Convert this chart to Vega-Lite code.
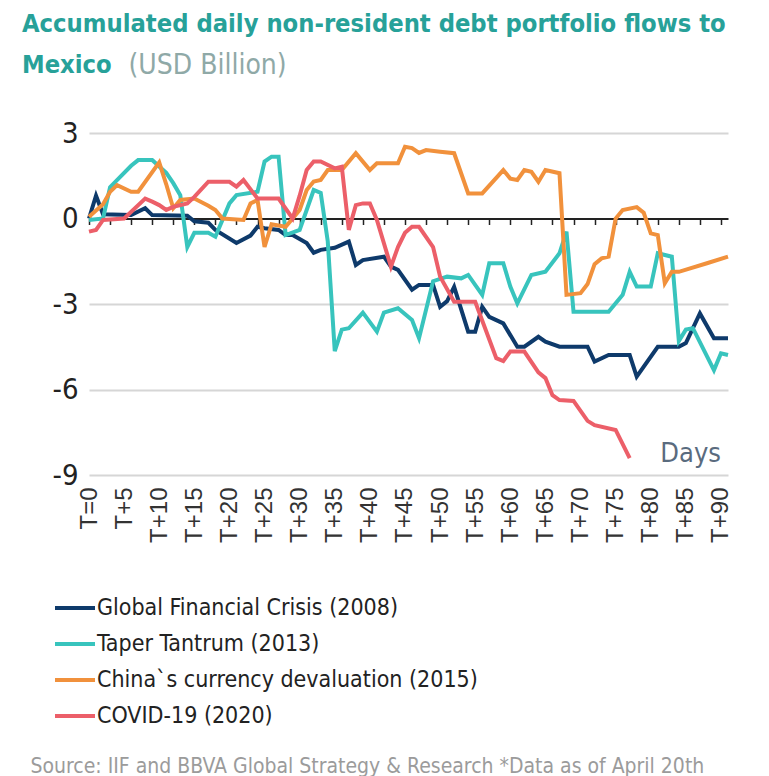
{
  "$schema": "https://vega.github.io/schema/vega-lite/v6.json",
  "width": 639,
  "height": 342,
  "autosize": {"type": "none"},
  "padding": {"left": 89, "top": 133, "right": 41, "bottom": 301},
  "background": "white",
  "config": {"view": {"stroke": null}},
  "title": {
    "text": ["Accumulated daily non-resident debt portfolio flows to", "Mexico"],
    "anchor": "start",
    "frame": "group",
    "dx": -67,
    "dy": 67,
    "offset": 40,
    "font": "DejaVu Sans Condensed, sans-serif",
    "fontSize": 25.3,
    "fontWeight": "bold",
    "color": "#27a199",
    "lineHeight": 41
  },
  "layer": [
    {
      "data": {
        "values": [
          {"series": "Global Financial Crisis (2008)", "day": 0, "value": 0.0},
          {"series": "Global Financial Crisis (2008)", "day": 1, "value": 0.8},
          {"series": "Global Financial Crisis (2008)", "day": 2, "value": 0.15},
          {"series": "Global Financial Crisis (2008)", "day": 6, "value": 0.12},
          {"series": "Global Financial Crisis (2008)", "day": 8, "value": 0.36},
          {"series": "Global Financial Crisis (2008)", "day": 9, "value": 0.12},
          {"series": "Global Financial Crisis (2008)", "day": 14, "value": 0.1},
          {"series": "Global Financial Crisis (2008)", "day": 15, "value": -0.1},
          {"series": "Global Financial Crisis (2008)", "day": 17, "value": -0.15},
          {"series": "Global Financial Crisis (2008)", "day": 18, "value": -0.4},
          {"series": "Global Financial Crisis (2008)", "day": 21, "value": -0.86},
          {"series": "Global Financial Crisis (2008)", "day": 23, "value": -0.6},
          {"series": "Global Financial Crisis (2008)", "day": 24, "value": -0.29},
          {"series": "Global Financial Crisis (2008)", "day": 25, "value": -0.34},
          {"series": "Global Financial Crisis (2008)", "day": 27, "value": -0.4},
          {"series": "Global Financial Crisis (2008)", "day": 28, "value": -0.58},
          {"series": "Global Financial Crisis (2008)", "day": 29, "value": -0.58},
          {"series": "Global Financial Crisis (2008)", "day": 31, "value": -0.86},
          {"series": "Global Financial Crisis (2008)", "day": 32, "value": -1.2},
          {"series": "Global Financial Crisis (2008)", "day": 33, "value": -1.1},
          {"series": "Global Financial Crisis (2008)", "day": 35, "value": -1.03},
          {"series": "Global Financial Crisis (2008)", "day": 37, "value": -0.81},
          {"series": "Global Financial Crisis (2008)", "day": 38, "value": -1.63},
          {"series": "Global Financial Crisis (2008)", "day": 39, "value": -1.46},
          {"series": "Global Financial Crisis (2008)", "day": 42, "value": -1.34},
          {"series": "Global Financial Crisis (2008)", "day": 43, "value": -1.69},
          {"series": "Global Financial Crisis (2008)", "day": 44, "value": -1.8},
          {"series": "Global Financial Crisis (2008)", "day": 46, "value": -2.5},
          {"series": "Global Financial Crisis (2008)", "day": 47, "value": -2.33},
          {"series": "Global Financial Crisis (2008)", "day": 49, "value": -2.33},
          {"series": "Global Financial Crisis (2008)", "day": 50, "value": -3.1},
          {"series": "Global Financial Crisis (2008)", "day": 51, "value": -2.9},
          {"series": "Global Financial Crisis (2008)", "day": 52, "value": -2.4},
          {"series": "Global Financial Crisis (2008)", "day": 54, "value": -3.97},
          {"series": "Global Financial Crisis (2008)", "day": 55, "value": -3.97},
          {"series": "Global Financial Crisis (2008)", "day": 56, "value": -3.1},
          {"series": "Global Financial Crisis (2008)", "day": 57, "value": -3.45},
          {"series": "Global Financial Crisis (2008)", "day": 59, "value": -3.68},
          {"series": "Global Financial Crisis (2008)", "day": 61, "value": -4.5},
          {"series": "Global Financial Crisis (2008)", "day": 62, "value": -4.5},
          {"series": "Global Financial Crisis (2008)", "day": 64, "value": -4.15},
          {"series": "Global Financial Crisis (2008)", "day": 65, "value": -4.32},
          {"series": "Global Financial Crisis (2008)", "day": 67, "value": -4.5},
          {"series": "Global Financial Crisis (2008)", "day": 71, "value": -4.5},
          {"series": "Global Financial Crisis (2008)", "day": 72, "value": -5.02},
          {"series": "Global Financial Crisis (2008)", "day": 74, "value": -4.79},
          {"series": "Global Financial Crisis (2008)", "day": 77, "value": -4.79},
          {"series": "Global Financial Crisis (2008)", "day": 78, "value": -5.55},
          {"series": "Global Financial Crisis (2008)", "day": 81, "value": -4.5},
          {"series": "Global Financial Crisis (2008)", "day": 84, "value": -4.5},
          {"series": "Global Financial Crisis (2008)", "day": 85, "value": -4.37},
          {"series": "Global Financial Crisis (2008)", "day": 87, "value": -3.33},
          {"series": "Global Financial Crisis (2008)", "day": 89, "value": -4.2},
          {"series": "Global Financial Crisis (2008)", "day": 91, "value": -4.2},

          {"series": "Taper Tantrum (2013)", "day": 0, "value": -0.05},
          {"series": "Taper Tantrum (2013)", "day": 2, "value": 0.0},
          {"series": "Taper Tantrum (2013)", "day": 3, "value": 1.1},
          {"series": "Taper Tantrum (2013)", "day": 6, "value": 1.85},
          {"series": "Taper Tantrum (2013)", "day": 7, "value": 2.05},
          {"series": "Taper Tantrum (2013)", "day": 9, "value": 2.05},
          {"series": "Taper Tantrum (2013)", "day": 11, "value": 1.6},
          {"series": "Taper Tantrum (2013)", "day": 12, "value": 1.24},
          {"series": "Taper Tantrum (2013)", "day": 13, "value": 0.82},
          {"series": "Taper Tantrum (2013)", "day": 14, "value": -1.0},
          {"series": "Taper Tantrum (2013)", "day": 15, "value": -0.5},
          {"series": "Taper Tantrum (2013)", "day": 17, "value": -0.5},
          {"series": "Taper Tantrum (2013)", "day": 18, "value": -0.64},
          {"series": "Taper Tantrum (2013)", "day": 20, "value": 0.53},
          {"series": "Taper Tantrum (2013)", "day": 21, "value": 0.82},
          {"series": "Taper Tantrum (2013)", "day": 24, "value": 0.94},
          {"series": "Taper Tantrum (2013)", "day": 25, "value": 2.0},
          {"series": "Taper Tantrum (2013)", "day": 26, "value": 2.17},
          {"series": "Taper Tantrum (2013)", "day": 27, "value": 2.17},
          {"series": "Taper Tantrum (2013)", "day": 28, "value": -0.58},
          {"series": "Taper Tantrum (2013)", "day": 30, "value": -0.4},
          {"series": "Taper Tantrum (2013)", "day": 32, "value": 1.0},
          {"series": "Taper Tantrum (2013)", "day": 33, "value": 0.9},
          {"series": "Taper Tantrum (2013)", "day": 34, "value": -0.8},
          {"series": "Taper Tantrum (2013)", "day": 35, "value": -4.65},
          {"series": "Taper Tantrum (2013)", "day": 36, "value": -3.9},
          {"series": "Taper Tantrum (2013)", "day": 37, "value": -3.85},
          {"series": "Taper Tantrum (2013)", "day": 39, "value": -3.3},
          {"series": "Taper Tantrum (2013)", "day": 41, "value": -3.97},
          {"series": "Taper Tantrum (2013)", "day": 42, "value": -3.3},
          {"series": "Taper Tantrum (2013)", "day": 44, "value": -3.15},
          {"series": "Taper Tantrum (2013)", "day": 46, "value": -3.56},
          {"series": "Taper Tantrum (2013)", "day": 47, "value": -4.2},
          {"series": "Taper Tantrum (2013)", "day": 49, "value": -2.2},
          {"series": "Taper Tantrum (2013)", "day": 51, "value": -2.04},
          {"series": "Taper Tantrum (2013)", "day": 53, "value": -2.1},
          {"series": "Taper Tantrum (2013)", "day": 54, "value": -1.98},
          {"series": "Taper Tantrum (2013)", "day": 56, "value": -2.68},
          {"series": "Taper Tantrum (2013)", "day": 57, "value": -1.57},
          {"series": "Taper Tantrum (2013)", "day": 59, "value": -1.57},
          {"series": "Taper Tantrum (2013)", "day": 60, "value": -2.39},
          {"series": "Taper Tantrum (2013)", "day": 61, "value": -2.98},
          {"series": "Taper Tantrum (2013)", "day": 63, "value": -1.98},
          {"series": "Taper Tantrum (2013)", "day": 65, "value": -1.87},
          {"series": "Taper Tantrum (2013)", "day": 67, "value": -1.22},
          {"series": "Taper Tantrum (2013)", "day": 68, "value": -0.46},
          {"series": "Taper Tantrum (2013)", "day": 69, "value": -3.27},
          {"series": "Taper Tantrum (2013)", "day": 74, "value": -3.27},
          {"series": "Taper Tantrum (2013)", "day": 76, "value": -2.68},
          {"series": "Taper Tantrum (2013)", "day": 77, "value": -1.87},
          {"series": "Taper Tantrum (2013)", "day": 78, "value": -2.39},
          {"series": "Taper Tantrum (2013)", "day": 80, "value": -2.39},
          {"series": "Taper Tantrum (2013)", "day": 81, "value": -1.22},
          {"series": "Taper Tantrum (2013)", "day": 83, "value": -1.34},
          {"series": "Taper Tantrum (2013)", "day": 84, "value": -4.3},
          {"series": "Taper Tantrum (2013)", "day": 85, "value": -3.9},
          {"series": "Taper Tantrum (2013)", "day": 86, "value": -3.85},
          {"series": "Taper Tantrum (2013)", "day": 89, "value": -5.32},
          {"series": "Taper Tantrum (2013)", "day": 90, "value": -4.73},
          {"series": "Taper Tantrum (2013)", "day": 91, "value": -4.79},

          {"series": "China`s currency devaluation (2015)", "day": 0, "value": 0.06},
          {"series": "China`s currency devaluation (2015)", "day": 2, "value": 0.5},
          {"series": "China`s currency devaluation (2015)", "day": 3, "value": 0.94},
          {"series": "China`s currency devaluation (2015)", "day": 4, "value": 1.17},
          {"series": "China`s currency devaluation (2015)", "day": 6, "value": 0.94},
          {"series": "China`s currency devaluation (2015)", "day": 7, "value": 0.94},
          {"series": "China`s currency devaluation (2015)", "day": 10, "value": 1.97},
          {"series": "China`s currency devaluation (2015)", "day": 11, "value": 1.2},
          {"series": "China`s currency devaluation (2015)", "day": 12, "value": 0.36},
          {"series": "China`s currency devaluation (2015)", "day": 13, "value": 0.65},
          {"series": "China`s currency devaluation (2015)", "day": 15, "value": 0.7},
          {"series": "China`s currency devaluation (2015)", "day": 17, "value": 0.45},
          {"series": "China`s currency devaluation (2015)", "day": 18, "value": 0.3},
          {"series": "China`s currency devaluation (2015)", "day": 19, "value": 0.0},
          {"series": "China`s currency devaluation (2015)", "day": 22, "value": -0.05},
          {"series": "China`s currency devaluation (2015)", "day": 23, "value": 0.53},
          {"series": "China`s currency devaluation (2015)", "day": 24, "value": 0.65},
          {"series": "China`s currency devaluation (2015)", "day": 25, "value": -1.0},
          {"series": "China`s currency devaluation (2015)", "day": 26, "value": -0.2},
          {"series": "China`s currency devaluation (2015)", "day": 28, "value": -0.29},
          {"series": "China`s currency devaluation (2015)", "day": 29, "value": 0.0},
          {"series": "China`s currency devaluation (2015)", "day": 30, "value": 0.3},
          {"series": "China`s currency devaluation (2015)", "day": 31, "value": 1.0},
          {"series": "China`s currency devaluation (2015)", "day": 32, "value": 1.3},
          {"series": "China`s currency devaluation (2015)", "day": 33, "value": 1.35},
          {"series": "China`s currency devaluation (2015)", "day": 34, "value": 1.7},
          {"series": "China`s currency devaluation (2015)", "day": 36, "value": 1.7},
          {"series": "China`s currency devaluation (2015)", "day": 38, "value": 2.29},
          {"series": "China`s currency devaluation (2015)", "day": 40, "value": 1.7},
          {"series": "China`s currency devaluation (2015)", "day": 41, "value": 1.94},
          {"series": "China`s currency devaluation (2015)", "day": 44, "value": 1.94},
          {"series": "China`s currency devaluation (2015)", "day": 45, "value": 2.52},
          {"series": "China`s currency devaluation (2015)", "day": 46, "value": 2.47},
          {"series": "China`s currency devaluation (2015)", "day": 47, "value": 2.3},
          {"series": "China`s currency devaluation (2015)", "day": 48, "value": 2.4},
          {"series": "China`s currency devaluation (2015)", "day": 50, "value": 2.34},
          {"series": "China`s currency devaluation (2015)", "day": 52, "value": 2.29},
          {"series": "China`s currency devaluation (2015)", "day": 54, "value": 0.88},
          {"series": "China`s currency devaluation (2015)", "day": 56, "value": 0.88},
          {"series": "China`s currency devaluation (2015)", "day": 59, "value": 1.7},
          {"series": "China`s currency devaluation (2015)", "day": 60, "value": 1.4},
          {"series": "China`s currency devaluation (2015)", "day": 61, "value": 1.35},
          {"series": "China`s currency devaluation (2015)", "day": 62, "value": 1.7},
          {"series": "China`s currency devaluation (2015)", "day": 63, "value": 1.64},
          {"series": "China`s currency devaluation (2015)", "day": 64, "value": 1.29},
          {"series": "China`s currency devaluation (2015)", "day": 65, "value": 1.7},
          {"series": "China`s currency devaluation (2015)", "day": 67, "value": 1.59},
          {"series": "China`s currency devaluation (2015)", "day": 68, "value": -2.68},
          {"series": "China`s currency devaluation (2015)", "day": 70, "value": -2.62},
          {"series": "China`s currency devaluation (2015)", "day": 71, "value": -2.3},
          {"series": "China`s currency devaluation (2015)", "day": 72, "value": -1.6},
          {"series": "China`s currency devaluation (2015)", "day": 73, "value": -1.4},
          {"series": "China`s currency devaluation (2015)", "day": 74, "value": -1.34},
          {"series": "China`s currency devaluation (2015)", "day": 75, "value": 0.0},
          {"series": "China`s currency devaluation (2015)", "day": 76, "value": 0.3},
          {"series": "China`s currency devaluation (2015)", "day": 78, "value": 0.4},
          {"series": "China`s currency devaluation (2015)", "day": 79, "value": 0.2},
          {"series": "China`s currency devaluation (2015)", "day": 80, "value": -0.52},
          {"series": "China`s currency devaluation (2015)", "day": 81, "value": -0.58},
          {"series": "China`s currency devaluation (2015)", "day": 82, "value": -2.27},
          {"series": "China`s currency devaluation (2015)", "day": 83, "value": -1.87},
          {"series": "China`s currency devaluation (2015)", "day": 84, "value": -1.87},
          {"series": "China`s currency devaluation (2015)", "day": 88, "value": -1.57},
          {"series": "China`s currency devaluation (2015)", "day": 91, "value": -1.34},

          {"series": "COVID-19 (2020)", "day": 0, "value": -0.46},
          {"series": "COVID-19 (2020)", "day": 1, "value": -0.4},
          {"series": "COVID-19 (2020)", "day": 2, "value": -0.05},
          {"series": "COVID-19 (2020)", "day": 5, "value": 0.0},
          {"series": "COVID-19 (2020)", "day": 8, "value": 0.7},
          {"series": "COVID-19 (2020)", "day": 9, "value": 0.59},
          {"series": "COVID-19 (2020)", "day": 10, "value": 0.47},
          {"series": "COVID-19 (2020)", "day": 11, "value": 0.3},
          {"series": "COVID-19 (2020)", "day": 12, "value": 0.41},
          {"series": "COVID-19 (2020)", "day": 14, "value": 0.53},
          {"series": "COVID-19 (2020)", "day": 15, "value": 0.76},
          {"series": "COVID-19 (2020)", "day": 17, "value": 1.29},
          {"series": "COVID-19 (2020)", "day": 20, "value": 1.29},
          {"series": "COVID-19 (2020)", "day": 21, "value": 1.12},
          {"series": "COVID-19 (2020)", "day": 22, "value": 1.35},
          {"series": "COVID-19 (2020)", "day": 24, "value": 0.7},
          {"series": "COVID-19 (2020)", "day": 27, "value": 0.7},
          {"series": "COVID-19 (2020)", "day": 29, "value": 0.0},
          {"series": "COVID-19 (2020)", "day": 30, "value": 0.8},
          {"series": "COVID-19 (2020)", "day": 31, "value": 1.7},
          {"series": "COVID-19 (2020)", "day": 32, "value": 2.0},
          {"series": "COVID-19 (2020)", "day": 33, "value": 2.0},
          {"series": "COVID-19 (2020)", "day": 35, "value": 1.76},
          {"series": "COVID-19 (2020)", "day": 36, "value": 1.82},
          {"series": "COVID-19 (2020)", "day": 37, "value": -0.4},
          {"series": "COVID-19 (2020)", "day": 38, "value": 0.47},
          {"series": "COVID-19 (2020)", "day": 39, "value": 0.53},
          {"series": "COVID-19 (2020)", "day": 40, "value": 0.53},
          {"series": "COVID-19 (2020)", "day": 41, "value": -0.05},
          {"series": "COVID-19 (2020)", "day": 43, "value": -1.69},
          {"series": "COVID-19 (2020)", "day": 44, "value": -1.0},
          {"series": "COVID-19 (2020)", "day": 45, "value": -0.5},
          {"series": "COVID-19 (2020)", "day": 46, "value": -0.29},
          {"series": "COVID-19 (2020)", "day": 47, "value": -0.29},
          {"series": "COVID-19 (2020)", "day": 49, "value": -1.0},
          {"series": "COVID-19 (2020)", "day": 50, "value": -2.04},
          {"series": "COVID-19 (2020)", "day": 52, "value": -2.92},
          {"series": "COVID-19 (2020)", "day": 55, "value": -2.92},
          {"series": "COVID-19 (2020)", "day": 58, "value": -4.9},
          {"series": "COVID-19 (2020)", "day": 59, "value": -5.0},
          {"series": "COVID-19 (2020)", "day": 60, "value": -4.67},
          {"series": "COVID-19 (2020)", "day": 62, "value": -4.67},
          {"series": "COVID-19 (2020)", "day": 64, "value": -5.4},
          {"series": "COVID-19 (2020)", "day": 65, "value": -5.6},
          {"series": "COVID-19 (2020)", "day": 66, "value": -6.2},
          {"series": "COVID-19 (2020)", "day": 67, "value": -6.37},
          {"series": "COVID-19 (2020)", "day": 69, "value": -6.4},
          {"series": "COVID-19 (2020)", "day": 71, "value": -7.1},
          {"series": "COVID-19 (2020)", "day": 72, "value": -7.25},
          {"series": "COVID-19 (2020)", "day": 75, "value": -7.42},
          {"series": "COVID-19 (2020)", "day": 77, "value": -8.41}
        ]
      },
      "mark": {"type": "line", "strokeWidth": 4, "strokeJoin": "miter", "clip": false},
      "encoding": {
        "x": {
          "field": "day",
          "type": "quantitative",
          "scale": {"domain": [0, 91], "nice": false, "zero": false},
          "axis": {
            "values": [0, 5, 10, 15, 20, 25, 30, 35, 40, 45, 50, 55, 60, 65, 70, 75, 80, 85, 90],
            "labelExpr": "datum.value == 0 ? 'T=0' : 'T+' + datum.value",
            "labelAngle": -90,
            "labelFont": "Liberation Sans, Arial, sans-serif",
            "labelFontSize": 24,
            "labelColor": "#333333",
            "labelPadding": 12,
            "labelOverlap": false,
            "labelFlush": false,
            "ticks": false,
            "domain": false,
            "grid": false,
            "title": "Source: IIF and BBVA Global Strategy & Research *Data as of April 20th",
            "titleX": -59,
            "titleY": 297,
            "titleAlign": "left",
            "titleAnchor": null,
            "titleBaseline": "alphabetic",
            "titleFont": "DejaVu Sans Condensed, sans-serif",
            "titleFontSize": 21,
            "titleFontWeight": "normal",
            "titleColor": "#9b9b9b"
          }
        },
        "y": {
          "field": "value",
          "type": "quantitative",
          "scale": {"domain": [-9, 3], "nice": false},
          "axis": {
            "values": [-9, -6, -3, 0, 3],
            "labelExpr": "'' + datum.value",
            "labelFont": "DejaVu Sans Condensed, sans-serif",
            "labelFontSize": 29,
            "labelColor": "#222222",
            "labelPadding": 11,
            "ticks": false,
            "domain": false,
            "grid": true,
            "gridColor": "#d6d6d6",
            "gridWidth": 2,
            "gridOpacity": {"condition": {"test": "datum.value === 0", "value": 0}, "value": 1},
            "title": "(USD Billion)",
            "titleAngle": 0,
            "titleX": 39,
            "titleY": -60,
            "titleAlign": "left",
            "titleBaseline": "alphabetic",
            "titleFont": "DejaVu Sans Condensed, sans-serif",
            "titleFontSize": 28,
            "titleFontWeight": "normal",
            "titleColor": "#8fa9a7"
          }
        },
        "color": {
          "field": "series",
          "type": "nominal",
          "sort": ["Global Financial Crisis (2008)", "Taper Tantrum (2013)", "China`s currency devaluation (2015)", "COVID-19 (2020)"],
          "scale": {
            "domain": ["Global Financial Crisis (2008)", "Taper Tantrum (2013)", "China`s currency devaluation (2015)", "COVID-19 (2020)"],
            "range": ["#0e3a6b", "#38c4bd", "#f1913c", "#ec5f69"]
          },
          "legend": {
            "orient": "none",
            "legendX": -36,
            "legendY": 453,
            "title": null,
            "direction": "vertical",
            "symbolType": "stroke",
            "symbolStrokeWidth": 4,
            "symbolSize": 1600,
            "labelFont": "DejaVu Sans Condensed, sans-serif",
            "labelFontSize": 23,
            "labelColor": "#222222",
            "labelOffset": 0,
            "labelLimit": 600,
            "rowPadding": 2,
            "padding": 0
          }
        }
      }
    },
    {
      "data": {"values": [{"label": "Days"}]},
      "mark": {
        "type": "text",
        "align": "right",
        "baseline": "alphabetic",
        "font": "DejaVu Sans Condensed, sans-serif",
        "fontSize": 27,
        "color": "#5a6b7e"
      },
      "encoding": {
        "x": {
          "datum": 90,
          "type": "quantitative",
          "axis": {
            "orient": "bottom",
            "offset": -256.5,
            "values": [0, 3, 6, 9, 12, 15, 18, 21, 24, 27, 30, 33, 36, 39, 42, 45, 48, 51, 54, 57, 60, 63, 66, 69, 72, 75, 78, 81, 84, 87, 90],
            "labels": false,
            "domain": true,
            "domainColor": "#222222",
            "domainWidth": 2,
            "ticks": true,
            "tickColor": "#222222",
            "tickWidth": 1.5,
            "tickSize": 6,
            "grid": false,
            "title": null
          }
        },
        "y": {"datum": -8.55, "type": "quantitative"},
        "text": {"field": "label"}
      }
    }
  ],
  "resolve": {"axis": {"x": "independent"}}
}
